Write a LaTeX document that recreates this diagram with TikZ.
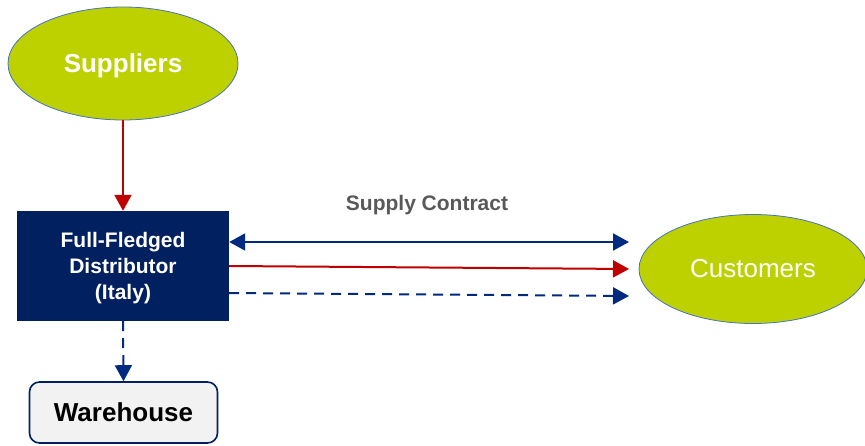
\documentclass[tikz,border=0pt]{standalone}
\usepackage{fontspec}
\setmainfont{Liberation Sans}
\usetikzlibrary{arrows.meta,shapes.geometric}
\definecolor{lime}{RGB}{189,209,0}
\definecolor{edgeblue}{RGB}{68,114,196}
\definecolor{navy}{RGB}{0,32,96}
\definecolor{arrnavy}{RGB}{0,42,128}
\definecolor{arrred}{RGB}{192,0,0}
\definecolor{wgray}{RGB}{242,242,242}
\definecolor{tgray}{RGB}{89,89,89}
\tikzset{
  party/.style={ellipse, fill=lime, draw=edgeblue, line width=0.8pt, text=white, inner sep=0pt},
  tip/.style={-{Triangle[length=16pt,width=17pt]}},
  bluearrow/.style={tip, draw=arrnavy, line width=2pt},
  redarrow/.style={tip, draw=arrred, line width=2pt},
  dasharrow/.style={tip, draw=arrnavy, line width=2pt, dash pattern=on 10pt off 7pt},
}
\begin{document}
\begin{tikzpicture}[x=1pt,y=-1pt]
\useasboundingbox (0,0) rectangle (865,446);
\node[party, minimum width=230pt, minimum height=113pt, text depth=0pt, font=\fontsize{26}{30}\selectfont\bfseries] (sup) at (123,63.5) {Suppliers};
\node[fill=navy, minimum width=212pt, minimum height=110pt, inner sep=0pt, text=white, align=center, text depth=-7pt, font=\fontsize{21}{26}\selectfont\bfseries] (dist) at (123,266) {Full-Fledged\\Distributor\\(Italy)};
\node[fill=wgray, draw=navy, line width=1.6pt, rounded corners=10pt, minimum width=188pt, minimum height=61pt, inner sep=0pt, font=\fontsize{26}{30}\selectfont\bfseries] (wh) at (123.5,412.5) {Warehouse};
\node[party, minimum width=228pt, minimum height=109pt, font=\fontsize{26}{30}\selectfont] (cus) at (753,269) {Customers};
\node[text=tgray, font=\fontsize{21}{25}\selectfont\bfseries] (sc) at (427,205) {Supply Contract};
\coordinate (e1) at (629,242);
\coordinate (e2) at (629,269);
\coordinate (e3) at (629,296);
\draw[redarrow] (sup.south) -- (dist.north);
\draw[dasharrow] (dist.south) -- (wh.north);
\draw[bluearrow, {Triangle[length=16pt,width=17pt]}-{Triangle[length=16pt,width=17pt]}] (dist.east |- e1) -- (e1);
\draw[redarrow] (dist.east |- 0,266) -- (e2);
\draw[dasharrow] (dist.east |- 0,293) -- (e3);
\end{tikzpicture}
\end{document}
